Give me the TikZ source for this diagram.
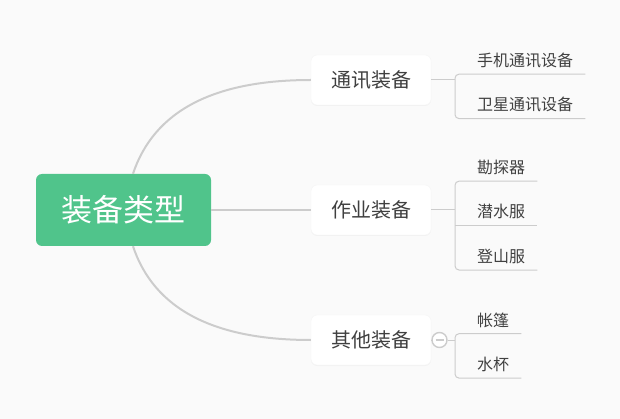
\documentclass[tikz,border=0pt]{standalone}
\usepackage{fontspec}
\newfontfamily\cjk{Noto Sans CJK SC}
\usetikzlibrary{positioning, shadows}

\definecolor{bgcol}{HTML}{FAFAFA}
\definecolor{rootgreen}{HTML}{50C48B}
\definecolor{linegray}{HTML}{CCCCCC}
\definecolor{txtgray}{HTML}{404040}

\tikzset{
  root/.style={rounded corners=6pt, fill=rootgreen, text=white, minimum width=175pt, minimum height=72pt, font=\cjk\fontsize{31}{31}\selectfont},
  branch/.style={rounded corners=6pt, fill=white, draw=black!4, drop shadow={opacity=0.06, shadow xshift=0pt, shadow yshift=-1pt}, minimum width=120pt, minimum height=50pt, text=txtgray, font=\cjk\fontsize{20}{20}\selectfont},
  leaf/.style={anchor=west, inner xsep=12pt, inner ysep=0pt, minimum height=27pt, text=txtgray, font=\cjk\fontsize{16}{16}\selectfont},
  fold/.style={circle, draw=linegray, fill=white, line width=1.4pt, minimum size=15pt, inner sep=0pt},
  link/.style={draw=linegray, line width=2pt},
  leafline/.style={draw=linegray, line width=1pt, rounded corners=4pt},
}

\begin{document}
\begin{tikzpicture}[x=1pt, y=-1pt]
    \fill[bgcol] (0,0) rectangle (620,419);
    \useasboundingbox (0,0) rectangle (620,419);

    \node[root] (root) at (123.5,210) {装备类型};
    \node[branch] (tx) at (371,80) {通讯装备};
    \node[branch] (zy) at (371,210) {作业装备};
    \node[branch] (qt) at (371,340) {其他装备};

    % leaves
    \node[leaf] (tx1) at (465,60.5) {手机通讯设备};
    \node[leaf, below=17pt of tx1] (tx2) {卫星通讯设备};
    \node[leaf] (zy1) at (465,167.5) {勘探器};
    \node[leaf, below=17pt of zy1] (zy2) {潜水服};
    \node[leaf, below=17pt of zy2] (zy3) {登山服};
    \node[leaf] (qt1) at (465,320) {帐篷};
    \node[leaf, below=17pt of qt1] (qt2) {水杯};

    % root to branches
    \draw[link] ([xshift=9.5pt]root.north) .. controls +(21,-63) and +(-97,0) .. (tx.west);
    \draw[link] (root.east) -- (zy.west);
    \draw[link] ([xshift=9.5pt]root.south) .. controls +(21,63) and +(-97,0) .. (qt.west);

    % brackets
    \coordinate (txk) at ([xshift=-10pt]tx1.south west);
    \draw[leafline] (tx.east) -- (tx.east -| txk);
    \draw[leafline] (tx1.south east) -- (txk) -- (txk |- tx2.south) -- (tx2.south east);

    \coordinate (zyk) at ([xshift=-10pt]zy1.south west);
    \draw[leafline] (zy.east) -- (zy.east -| zyk);
    \draw[leafline] (zy1.south east) -- (zyk) -- (zyk |- zy3.south) -- (zy3.south east);
    \draw[leafline] (zyk |- zy2.south) -- (zy2.south east);

    \coordinate (qtk) at ([xshift=-10pt]qt1.south west);
    \node[fold] (qtf) at (439.5,340) {};
    \draw[leafline] (qt.east) -- (qtf.west);
    \draw[leafline] (qtf.east) -- (qtf.east -| qtk);
    \draw[linegray, line width=1.6pt] ([xshift=-4pt]qtf.center) -- ([xshift=4pt]qtf.center);
    \draw[leafline] (qt1.south east) -- (qtk) -- (qtk |- qt2.south) -- (qt2.south east);
\end{tikzpicture}
\end{document}
